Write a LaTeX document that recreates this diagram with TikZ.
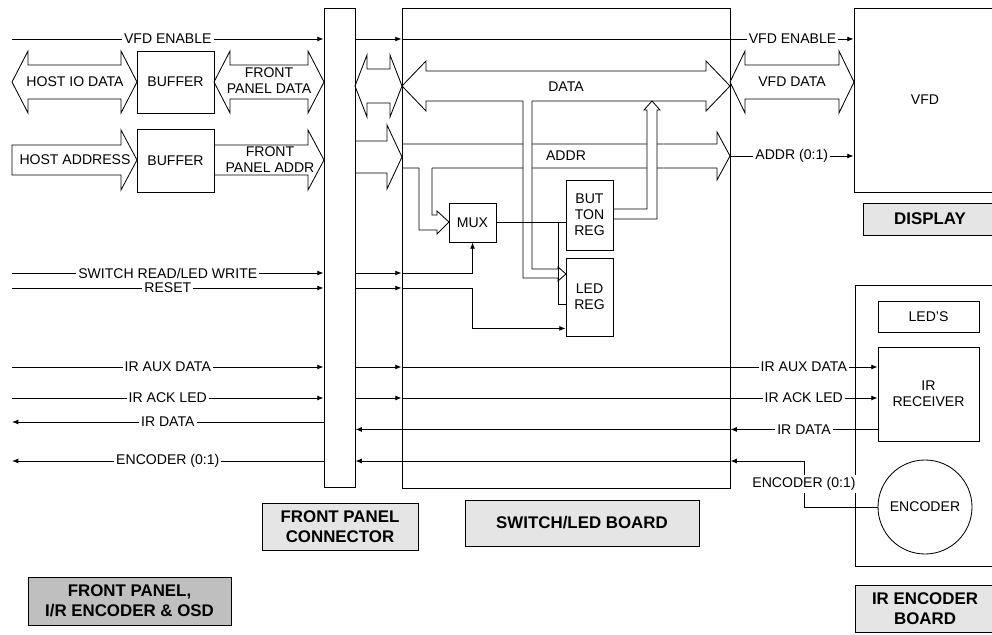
\documentclass[tikz,border=0pt]{standalone}
\usepackage{fontspec}
\setmainfont{Liberation Sans}
\usepackage{tikz}
\usetikzlibrary{arrows.meta,positioning,calc}

\begin{document}
\begin{tikzpicture}[x=0.025cm,y=-0.025cm,line width=0.6pt,
  font=\fontsize{10}{11.5}\selectfont,
  sz/.style 2 args={minimum width=#1*0.025cm,minimum height=#2*0.025cm},
  blk/.style={draw,inner sep=0pt,align=center},
  tag/.style={draw,inner sep=0pt,align=center,fill=black!10,font=\fontsize{12}{14}\selectfont\bfseries},
  lbl/.style={fill=white,inner sep=1.5pt},
  sig/.style={-{Latex[length=4.5pt,width=3.5pt]}}]
\path[use as bounding box,clip] (0,0) rectangle (992,635);

\node[blk,sz={31}{479}] (fpc) at (339.5,247.5) {};
\node[blk,sz={328}{480}] (swb) at (566,248) {};
\node[blk,sz={142}{184}] (vfd) at (925,100) {VFD};
\node[blk,sz={141}{281}] (irb) at (925.5,425.5) {};
\node[blk,sz={77}{62}] (buf1) at (175.5,82) {BUFFER};
\node[blk,sz={77}{63}] (buf2) at (175.5,160.5) {BUFFER};
\node[blk,sz={47}{39}] (mux) at (472.5,222.5) {MUX};
\node[blk,sz={47}{70}] (btn) at (589.5,215) {BUT\\TON\\REG};
\node[blk,sz={47}{78}] (ledr) at (589.5,297) {LED\\REG};
\node[blk,sz={101}{31}] (leds) at (928.5,316.5) {LED'S};
\node[blk,sz={101}{94}] (irrx) at (928.5,394) {IR\\RECEIVER};
\node[blk,circle,sz={94}{94}] (enc) at (925,507) {ENCODER};

\node[tag,sz={156}{47}] (tfpc) at (340,526.5) {FRONT PANEL\\CONNECTOR};
\node[tag,sz={234}{46}] (tswb) at (582,523) {SWITCH/LED BOARD};
\node[tag,sz={134}{32}] (tdsp) at (930,219) {DISPLAY};
\node[tag,sz={140}{47}] (tirb) at (925,608.5) {IR ENCODER\\BOARD};
\node[tag,fill=black!25,sz={203}{48}] (tfp) at (129.5,601) {FRONT PANEL,\\I/R ENCODER \& OSD};

% buses
\draw (12,82) -- (28,51) -- (28,65) -- (121,65) -- (121,51) -- (137,82) -- (121,113) -- (121,99) -- (28,99) -- (28,113) -- cycle;
\draw (214,82) -- (230,51) -- (230,65) -- (308,65) -- (308,51) -- (324,82) -- (308,113) -- (308,99) -- (230,99) -- (230,113) -- cycle;
\draw (12,145) -- (121,145) -- (121,130) -- (137,160) -- (121,190) -- (121,175) -- (12,175) -- cycle;
\draw (214,145) -- (308,145) -- (308,130) -- (324,160) -- (308,190) -- (308,175) -- (214,175);
\draw (355,86) -- (367,55) -- (367,69) -- (390,69) -- (390,55) -- (402,86) -- (390,117) -- (390,103) -- (367,103) -- (367,117) -- cycle;
\draw (355,141) -- (387,141) -- (387,125) -- (402,157) -- (387,189) -- (387,173) -- (355,173);
\draw (730,82) -- (745,51) -- (745,65) -- (839,65) -- (839,51) -- (854,82) -- (839,113) -- (839,99) -- (745,99) -- (745,113) -- cycle;
\node (hio) at (75,82) {HOST IO DATA};
\node[align=center] (fpd) at (269,81) {FRONT\\PANEL DATA};
\node (hadr) at (75,160) {HOST ADDRESS};
\node[align=center] (fpa) at (270,160) {FRONT\\PANEL ADDR};
\node (vfdd) at (792,82) {VFD DATA};

% board buses
\draw (532,101) -- (706,101) -- (706,111) -- (730,86) -- (706,61) -- (706,71) -- (426,71) -- (426,61) -- (402,86) -- (426,111) -- (426,101) -- (523,101);
\draw (402,144) -- (523,144) (532,144) -- (647,144) (657,144) -- (717,144) -- (717,132) -- (730,156) -- (717,180) -- (717,168) -- (657,168)
  (647,168) -- (532,168) (523,168) -- (432,168) (419,168) -- (402,168);
\draw (419,168) -- (419,230) -- (437,230) -- (437,234) -- (449,222) -- (437,211) -- (437,215) -- (432,215) -- (432,168);
\draw (523,101) -- (523,278) -- (558,278) -- (558,281) -- (566,274) -- (558,267) -- (558,269) -- (532,269) -- (532,101);
\draw (btn.east |- 0,209) -- (647,209) -- (647,110) -- (644,110) -- (652,101) -- (660,110) -- (657,110) -- (657,219) -- (btn.east |- 0,219);
\node (data) at (566,87) {DATA};
\node (addr) at (566,156) {ADDR};

% signals
\foreach \nm/\y/\txt in {ve/39/VFD ENABLE, sw/273/{SWITCH READ/LED WRITE}, rs/288/RESET, ax/367/IR AUX DATA, ak/398/IR ACK LED}{
  \coordinate (\nm) at (12,\y);
  \draw[sig] (\nm) -- node[lbl]{\txt} (\nm -| fpc.west);
  \draw[sig] (\nm -| fpc.east) -- (\nm -| swb.west);
}
\foreach \nm/\y/\txt in {ir/422/IR DATA, en/461/ENCODER (0:1)}{
  \coordinate (\nm) at (12,\y);
  \draw[sig] (\nm -| fpc.west) -- node[lbl]{\txt} (\nm);
}
\draw[sig] (ve -| swb.west) -- node[lbl,pos=0.865]{VFD ENABLE} (ve -| vfd.west);
\draw[sig] (ax -| swb.west) -- node[lbl,pos=0.845]{IR AUX DATA} (ax -| irrx.west);
\draw[sig] (ak -| swb.west) -- node[lbl,pos=0.845]{IR ACK LED} (ak -| irrx.west);
\draw[sig] (sw -| swb.west) -| (mux.south);
\coordinate (rsl) at ($(ledr.south west)+(0,-8)$);
\draw[sig] (rs -| swb.west) -| (rsl -| mux.south) -- (rsl);
\coordinate (sel) at ($(btn.west |- mux.east)+(-7,0)$);
\draw (mux.east) -- (btn.west |- mux.east);
\draw (sel) |- ($(ledr.north west)+(0,47)$);
\coordinate (at) at (730,156);
\draw[sig] (at) -- node[lbl]{ADDR (0:1)} (at -| vfd.west);
\coordinate (ird) at ($(irrx.south west)+(0,-12)$);
\draw[sig] (ird) -- node[lbl]{IR DATA} (ird -| swb.east);
\draw[sig] (ird -| swb.east) -- (ird -| fpc.east);
\coordinate (ene) at (804,461);
\draw[sig] (enc.west) -| node[lbl,pos=0.75]{ENCODER (0:1)} (ene) -- (ene -| swb.east);
\draw[sig] (ene -| swb.east) -- (ene -| fpc.east);
\end{tikzpicture}
\end{document}
